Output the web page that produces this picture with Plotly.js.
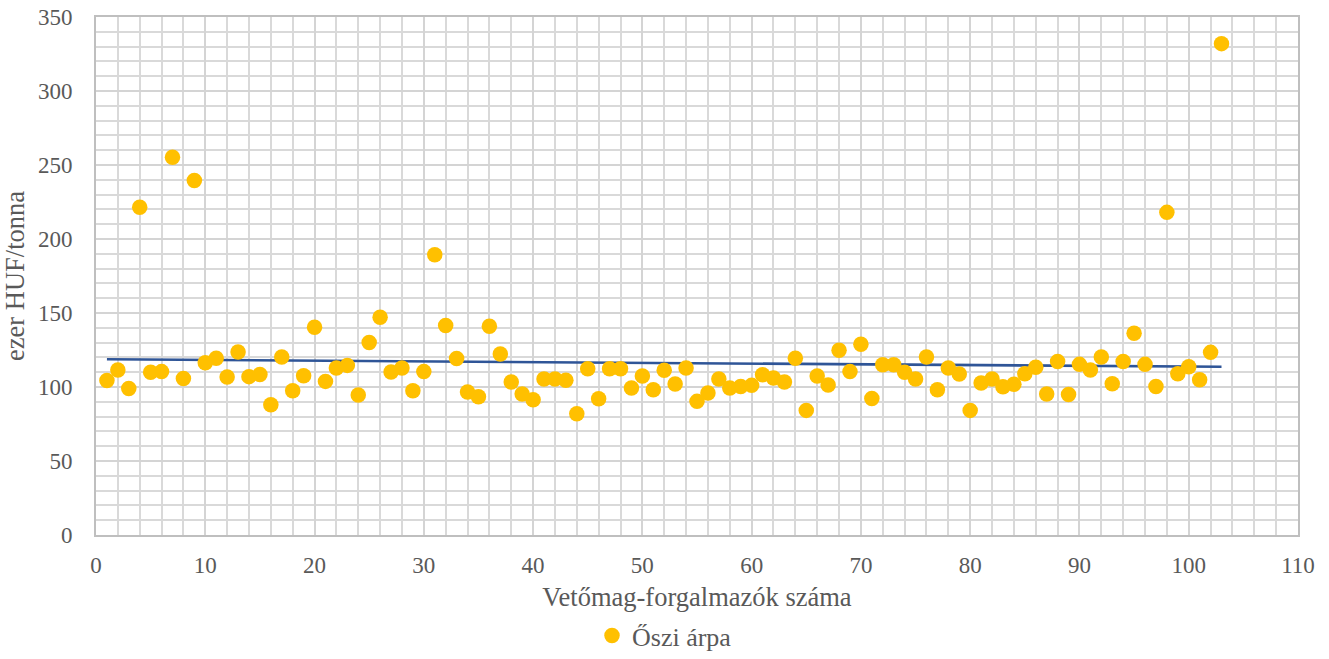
<!DOCTYPE html>
<html>
<head>
<meta charset="utf-8">
<script src="https://cdn.plot.ly/plotly-3.0.1.min.js"></script>
<style>html,body{margin:0;padding:0;background:#fff;}#chart{width:1329px;height:659px;}</style>
</head>
<body>
<div id="chart"></div>
<script>
const xValues = [];
for (let i = 1; i <= 103; i++) xValues.push(i);
const yValues = [
  104.4, 111.5, 99.0, 221.4, 110.0, 110.4, 255.2, 105.8, 239.5, 116.4,
  119.4, 106.7, 123.7, 107.0, 108.5, 88.0, 120.3, 97.5, 107.6, 140.4,
  103.8, 112.8, 114.6, 94.6, 130.0, 147.1, 110.1, 112.8, 97.5, 110.4,
  189.4, 141.5, 119.2, 96.6, 93.4, 141.0, 122.3, 103.4, 95.2, 91.4,
  105.4, 105.4, 104.5, 81.9, 112.4, 92.0, 112.4, 112.4, 99.3, 107.4,
  98.2, 111.3, 102.0, 112.8, 90.3, 95.9, 105.4, 99.3, 100.4, 101.1,
  108.3, 106.1, 103.4, 119.4, 84.2, 107.4, 101.3, 124.8, 110.4, 128.9,
  92.3, 115.1, 115.1, 109.9, 105.4, 120.3, 98.2, 112.8, 108.8, 84.2,
  102.7, 105.4, 100.2, 101.8, 109.0, 113.3, 95.2, 117.3, 95.0, 115.3,
  111.5, 120.3, 102.2, 117.3, 136.3, 115.3, 100.4, 218.0, 109.0, 113.7,
  104.9, 123.4, 332.0
];
const trendX = [1, 103];
const trendY = [118.7, 113.7];
const seriesName = 'Őszi árpa';

const fontFam = '"Liberation Serif", "Times New Roman", serif';
const data = [
  {
    x: trendX, y: trendY, type: 'scatter', mode: 'lines',
    line: {color: '#2F5597', width: 2.6},
    showlegend: false, hoverinfo: 'skip'
  },
  {
    x: xValues, y: yValues, type: 'scatter', mode: 'markers',
    name: seriesName,
    marker: {color: '#FFC000', size: 15.5}
  }
];
const layout = {
  width: 1329, height: 659,
  margin: {l: 96, r: 31, t: 17, b: 124},
  paper_bgcolor: '#fff', plot_bgcolor: '#fff',
  font: {family: fontFam, color: '#595959', size: 23},
  showlegend: true,
  legend: {orientation: 'h', x: 0.5, xanchor: 'center', xref: 'container',
           yref: 'container', y: 0.0, yanchor: 'bottom',
           font: {family: fontFam, size: 26, color: '#595959'}},
  xaxis: {
    range: [0, 110], dtick: 10, tick0: 0,
    showgrid: true, gridcolor: '#d4d4d4', gridwidth: 2,
    minor: {dtick: 2, showgrid: true, gridcolor: '#d9d9d9', gridwidth: 2},
    zeroline: false, showline: true, linecolor: '#bfbfbf', linewidth: 2, mirror: true,
    ticks: 'outside', ticklen: 8, tickcolor: 'rgba(0,0,0,0)',
    tickfont: {family: fontFam, size: 23, color: '#595959'},
    title: {text: 'Vetőmag-forgalmazók száma', font: {family: fontFam, size: 26.5, color: '#595959'}, standoff: 14}
  },
  yaxis: {
    range: [0, 350], dtick: 50, tick0: 0,
    showgrid: true, gridcolor: '#d4d4d4', gridwidth: 2,
    minor: {dtick: 10, showgrid: true, gridcolor: '#d9d9d9', gridwidth: 2},
    zeroline: false, showline: true, linecolor: '#bfbfbf', linewidth: 2, mirror: true,
    ticks: 'outside', ticklen: 17, tickcolor: 'rgba(0,0,0,0)',
    tickfont: {family: fontFam, size: 23, color: '#595959'},
    title: {text: 'ezer HUF/tonna', font: {family: fontFam, size: 26.5, color: '#595959'}, standoff: 10}
  }
};
Plotly.newPlot('chart', data, layout, {displayModeBar: false, staticPlot: true});
</script>
</body>
</html>
